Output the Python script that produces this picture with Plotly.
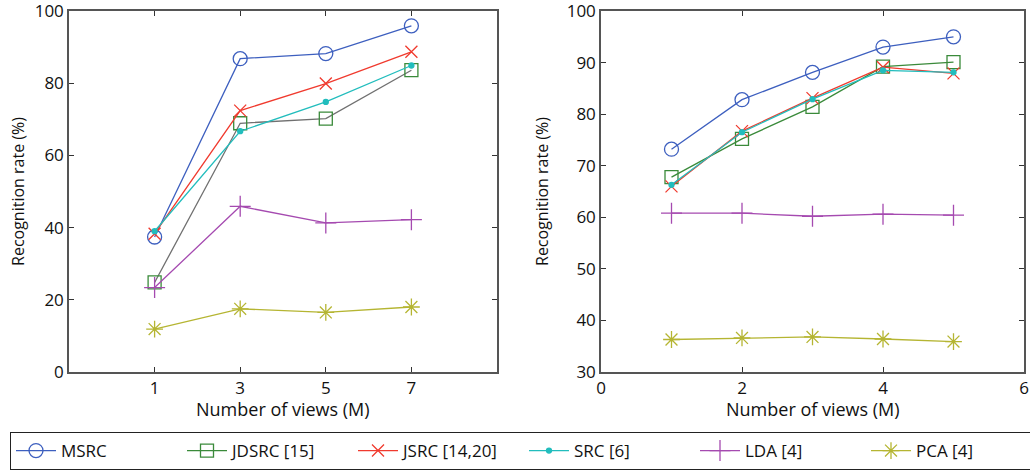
import plotly.graph_objects as go

# ---- data ----
series_names = ["MSRC", "JDSRC [15]", "JSRC [14,20]", "SRC [6]", "LDA [4]", "PCA [4]"]

left_x = [1, 3, 5, 7]
left_msrc = [37.4, 86.8, 88.2, 95.9]
left_jdsrc = [24.8, 68.9, 70.2, 83.6]
left_jsrc = [38.3, 72.4, 79.9, 88.7]
left_src = [39.0, 66.7, 74.8, 84.9]
left_lda = [23.4, 45.9, 41.3, 42.2]
left_pca = [11.9, 17.5, 16.5, 18.0]

right_x = [1, 2, 3, 4, 5]
right_msrc = [73.2, 82.8, 88.1, 93.0, 95.0]
right_jdsrc = [67.8, 75.2, 81.4, 89.2, 90.1]
right_jsrc = [66.0, 76.7, 83.1, 89.1, 87.9]
right_src = [66.3, 76.5, 82.9, 88.5, 88.1]
right_lda = [60.8, 60.8, 60.2, 60.6, 60.4]
right_pca = [36.3, 36.6, 36.8, 36.4, 35.9]

left_xticks = [1, 3, 5, 7]
left_yticks = [0, 20, 40, 60, 80, 100]
right_xticks = [0, 2, 4, 6]
right_yticks = [30, 40, 50, 60, 70, 80, 90, 100]

x_title_text = "Number of views (M)"
y_title_text = "Recognition rate (%)"

# ---- styles ----
colors = ["#3D5FBF", "#3A8A3A", "#F03A2E", "#22BDBD", "#A54AB0", "#B5B532"]
symbols = ["circle-open", "square-open", "x-thin-open", "circle", "cross-thin-open", "asterisk-open"]
sizes = [14, 13, 12, 5, 15, 14]

FONT = "Open Sans"

fig = go.Figure()

left_data = [left_msrc, left_jdsrc, left_jsrc, left_src, left_lda, left_pca]
right_data = [right_msrc, right_jdsrc, right_jsrc, right_src, right_lda, right_pca]

for i, name in enumerate(series_names):
    line_col = "#707070" if i == 1 else colors[i]
    fig.add_trace(go.Scatter(
        x=left_x, y=left_data[i], mode="lines+markers", name=name,
        legendgroup=name, showlegend=False,
        line=dict(color=line_col, width=1.3),
        marker=dict(symbol=symbols[i], size=sizes[i], color=colors[i],
                    line=dict(color=colors[i], width=1.3)),
        xaxis="x", yaxis="y"))

for i, name in enumerate(series_names):
    fig.add_trace(go.Scatter(
        x=right_x, y=right_data[i], mode="lines+markers", name=name,
        legendgroup=name, showlegend=True,
        line=dict(color=colors[i], width=1.3),
        marker=dict(symbol=symbols[i], size=sizes[i], color=colors[i],
                    line=dict(color=colors[i], width=1.3)),
        xaxis="x2", yaxis="y2"))

W, H = 1030, 472
ML, MR, MT, MB = 69, 6, 11, 100
PW = W - ML - MR
PH = H - MT - MB

ax_common = dict(showline=True, linecolor="#555555", linewidth=1.5, mirror="ticks",
                 ticks="inside", ticklen=5, tickcolor="#333333", tickwidth=1,
                 showgrid=False, zeroline=False, automargin=False,
                 ticklabeloverflow="allow",
                 tickfont=dict(family=FONT, size=17, color="#111111"))

left_dom = [0, (497 - ML) / PW]
right_dom = [(601 - ML) / PW, 1]

fig.update_layout(
    width=W, height=H,
    margin=dict(l=ML, r=MR, t=MT, b=MB, autoexpand=False),
    paper_bgcolor="white", plot_bgcolor="white",
    font=dict(family=FONT, color="#111111"),
    xaxis=dict(domain=left_dom, range=[-1, 9], tickvals=left_xticks,
               anchor="y", **ax_common),
    yaxis=dict(domain=[0, 1], range=[0, 100], tickvals=left_yticks,
               title=dict(text=y_title_text, font=dict(size=16), standoff=6),
               anchor="x", **ax_common),
    xaxis2=dict(domain=right_dom, range=[0, 6], tickvals=right_xticks,
                anchor="y2", **ax_common),
    yaxis2=dict(domain=[0, 1], range=[30, 100], tickvals=right_yticks,
                title=dict(text=y_title_text, font=dict(size=16), standoff=14),
                anchor="x2", **ax_common),
    legend=dict(orientation="h", x=(10 - ML) / PW, xanchor="left",
                y=(H - MB - 470) / PH, yanchor="bottom",
                bordercolor="#222222", borderwidth=1, bgcolor="white",
                font=dict(family=FONT, size=17, color="#111111"),
                entrywidth=116, entrywidthmode="pixels", traceorder="normal",
                itemwidth=40),
)

for dom in (left_dom, right_dom):
    fig.add_annotation(text=x_title_text, xref="paper", yref="paper",
                       x=(dom[0] + dom[1]) / 2, y=(H - MB - 409) / PH,
                       xanchor="center", yanchor="middle", showarrow=False,
                       font=dict(family=FONT, size=18, color="#111111"))

fig.write_html("out.html", config={"displayModeBar": False},
               post_script="document.body.style.margin='0';")
